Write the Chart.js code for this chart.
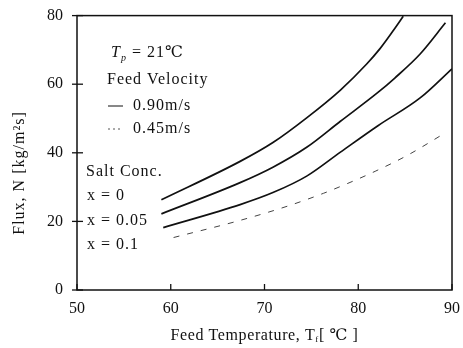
<!DOCTYPE html>
<html>
<head>
<meta charset="utf-8">
<script src="https://cdn.jsdelivr.net/npm/chart.js@4.4.1/dist/chart.umd.min.js"></script>
<style>
  html, body { margin: 0; padding: 0; background: #fff; }
  #wrap { width: 463px; height: 348px; }
</style>
</head>
<body>
<div id="wrap"><canvas id="myChart" width="463" height="348"></canvas></div>
<script>
// Flux vs feed temperature
const tempX0 = [59.0, 67.4, 70.9, 74.5, 78.1, 80.9, 82.3, 83.7, 84.8];
const fluxX0 = [26.3, 37.5, 43.0, 50.2, 58.3, 65.9, 70.3, 75.5, 79.8];

const tempX005 = [59.0, 67.4, 70.9, 74.5, 78.1, 82.1, 83.9, 86.6, 89.3];
const fluxX005 = [22.2, 31.3, 35.8, 41.6, 49.2, 57.6, 61.8, 68.8, 77.9];

const tempX01 = [59.2, 67.4, 70.9, 74.5, 78.1, 82.1, 86.6, 90.0];
const fluxX01 = [18.2, 24.9, 28.4, 33.2, 40.2, 47.9, 56.0, 64.5];

const tempSlow = [60.3, 67.4, 72.4, 76.3, 78.9, 81.8, 85.2, 89.4];
const fluxSlow = [15.3, 20.3, 24.4, 28.2, 31.1, 34.6, 39.2, 46.0];

const xTicks = [50, 60, 70, 80, 90];
const yTicks = [0, 20, 40, 60, 80];

const serif = '"Liberation Serif", "DejaVu Serif", serif';

function pts(xs, ys) {
    return xs.map((x, i) => ({ x: x, y: ys[i] }));
}

function solid(xs, ys) {
    return {
        data: pts(xs, ys),
        borderColor: '#111',
        borderWidth: 1.7,
        pointRadius: 0,
        cubicInterpolationMode: 'monotone',
        fill: false
    };
}

// draws text pieces one after another, small ones shifted down
function runText(ctx, parts, x, y) {
    parts.forEach(p => {
        ctx.font = p.f;
        ctx.fillText(p.t, x, y + (p.dy || 0));
        x += ctx.measureText(p.t).width;
    });
}

function runWidth(ctx, parts) {
    let w = 0;
    parts.forEach(p => { ctx.font = p.f; w += ctx.measureText(p.t).width; });
    return w;
}

// frame, ticks crossing the axes, in-plot notes and axis titles
const extras = {
    id: 'extras',
    afterDraw(chart) {
        const ctx = chart.ctx;
        const a = chart.chartArea;
        const xs = chart.scales.x;
        const ys = chart.scales.y;
        ctx.save();
        ctx.strokeStyle = '#111';
        ctx.lineWidth = 1.5;
        ctx.strokeRect(a.left, a.top, a.right - a.left, a.bottom - a.top);

        ctx.lineWidth = 1.3;
        yTicks.forEach(v => {
            const y = ys.getPixelForValue(v);
            ctx.beginPath();
            ctx.moveTo(a.left - 5, y);
            ctx.lineTo(a.left + 6, y);
            ctx.stroke();
        });
        xTicks.forEach(v => {
            const x = xs.getPixelForValue(v);
            ctx.beginPath();
            ctx.moveTo(x, a.bottom);
            ctx.lineTo(x, a.bottom - 6);
            ctx.stroke();
        });

        ctx.fillStyle = '#111';
        ctx.textBaseline = 'middle';
        ctx.textAlign = 'left';
        ctx.letterSpacing = '1px';

        // T_p = 21 C
        runText(ctx, [
            { t: 'T', f: 'italic 16px ' + serif },
            { t: 'p', f: 'italic 10px ' + serif, dy: 5 },
            { t: ' = 21\u2103', f: '16px ' + serif }
        ], 111, 53);

        ctx.font = '16px ' + serif;
        ctx.fillText('Feed Velocity', 107, 80);
        ctx.fillText('0.90m/s', 133, 106);
        ctx.fillText('0.45m/s', 133, 129);

        ctx.lineWidth = 1;
        ctx.beginPath();
        ctx.moveTo(108, 106);
        ctx.lineTo(123, 106);
        ctx.stroke();
        ctx.setLineDash([2, 3]);
        ctx.strokeStyle = '#555';
        ctx.beginPath();
        ctx.moveTo(108, 129);
        ctx.lineTo(123, 129);
        ctx.stroke();
        ctx.setLineDash([]);

        ctx.fillText('Salt Conc.', 86, 172);
        ctx.fillText('x = 0', 87, 196);
        ctx.fillText('x = 0.05', 87, 221);
        ctx.fillText('x = 0.1', 87, 245);

        // x axis title with subscript f
        ctx.letterSpacing = '0.6px';
        const xt = [
            { t: 'Feed Temperature, T', f: '16px ' + serif },
            { t: 'f', f: '9px ' + serif, dy: 4 },
            { t: '[ \u2103 ]', f: '16px ' + serif }
        ];
        runText(ctx, xt, (a.left + a.right) / 2 - runWidth(ctx, xt) / 2, 336);

        // y axis title
        ctx.letterSpacing = '1px';
        ctx.translate(20, 173);
        ctx.rotate(-Math.PI / 2);
        ctx.textAlign = 'center';
        ctx.font = '16px ' + serif;
        ctx.fillText('Flux, N [kg/m\u00b2s]', 0, 0);
        ctx.restore();
    }
};

const ctx = document.getElementById('myChart').getContext('2d');
const myChart = new Chart(ctx, {
    type: 'line',
    data: {
        datasets: [
            solid(tempX0, fluxX0),
            solid(tempX005, fluxX005),
            solid(tempX01, fluxX01),
            {
                data: pts(tempSlow, fluxSlow),
                borderColor: '#444',
                borderWidth: 1,
                borderDash: [6, 8],
                pointRadius: 0,
                cubicInterpolationMode: 'monotone',
                fill: false
            }
        ]
    },
    options: {
        responsive: false,
        animation: false,
        layout: { padding: { top: 11, right: 11, left: 0, bottom: 0 } },
        plugins: {
            legend: { display: false },
            tooltip: { enabled: false }
        },
        scales: {
            x: {
                type: 'linear',
                min: 50,
                max: 90,
                afterFit: s => { s.height = 58; },
                afterBuildTicks: s => { s.ticks = xTicks.map(v => ({ value: v })); },
                grid: { display: false },
                border: { display: false },
                ticks: {
                    color: '#111',
                    padding: 1,
                    font: { family: serif, size: 16 }
                }
            },
            y: {
                min: 0,
                max: 80,
                afterFit: s => { s.width = 77; },
                afterBuildTicks: s => { s.ticks = yTicks.map(v => ({ value: v })); },
                grid: { display: false },
                border: { display: false },
                ticks: {
                    color: '#111',
                    padding: 6,
                    font: { family: serif, size: 16 }
                }
            }
        }
    },
    plugins: [extras]
});
</script>
</body>
</html>
